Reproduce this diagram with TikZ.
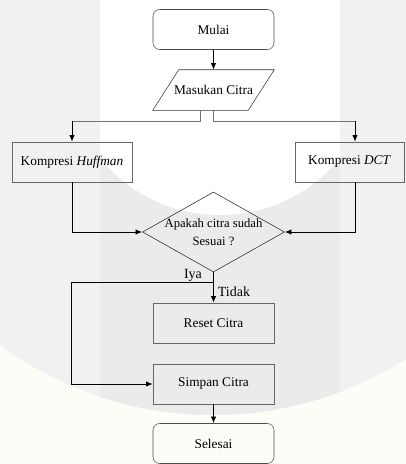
\documentclass[tikz,border=0pt]{standalone}
\usepackage{fontspec}
\setmainfont{Liberation Serif}
\usepackage{tikz}
\usetikzlibrary{positioning, arrows.meta, calc, shapes.geometric}
\definecolor{latar}{HTML}{FDFDF8}
\definecolor{abu}{HTML}{F1F1F1}
\definecolor{pita}{HTML}{EBEBEB}
\tikzset{
    startstop/.style={
        rectangle,
        rounded corners=5pt,
        draw=black!70,
        minimum width=90.75pt,
        minimum height=30pt,
        font=\fontsize{10}{12}\selectfont
    },
    process/.style={
        rectangle,
        draw=black!60,
        minimum width=90.75pt,
        minimum height=30pt,
        font=\fontsize{10}{12}\selectfont
    },
    io/.style={
        rectangle,
        minimum width=90.75pt,
        minimum height=30pt,
        font=\fontsize{10}{12}\selectfont
    },
    decision/.style={
        diamond,
        draw=black!85,
        minimum width=106.5pt,
        minimum height=60pt,
        inner sep=0pt
    },
    line/.style={
        black,
        line width=0.6pt
    },
    arrow/.style={
        line,
        -{Latex[length=5pt,width=4pt]}
    }
}

\begin{document}
\begin{tikzpicture}[x=0.75pt, y=-0.75pt]
\useasboundingbox (0,0) rectangle (406,464);

%---------------- Background ----------------

\fill[latar] (0,0) rectangle (406,464);
\begin{scope}
    \clip (0,0) rectangle (406,464);
    \fill[abu] (213,56) circle[radius=359];
    \begin{scope}
        \clip (213,56) circle[radius=359];
        \fill[pita] (100,0) rectangle (340,464);
    \end{scope}
    \begin{scope}
        \clip (100,0) rectangle (340,464);
        \fill[white] (220,60) circle[radius=155];
    \end{scope}
\end{scope}

%---------------- Nodes ----------------

\node[startstop] (mulai) at (213.5,29.5) {Mulai};
\node[io] (input) at (213.5,90) {Masukan Citra};
\draw[black!80] (input.south west) -- ($(input.north west)+(26,0)$)
    -- (input.north east) -- ($(input.south east)-(26,0)$) -- cycle;
\node[process, minimum width=90pt] (huffman) at (72,162) {Kompresi \textit{Huffman}};
\node[process, minimum width=81.75pt] (dct) at (349.5,162) {Kompresi \textit{DCT}};
\node[decision, label={[align=center, font=\fontsize{9.5}{13.5}\selectfont]center:Apakah citra sudah\\Sesuai ?}] (cek) at (213.5,232) {};
\node[process] (reset) at (213.5,323) {Reset Citra};
\node[process] (simpan) at (213.5,384) {Simpan Citra};
\node[startstop] (selesai) at (213.5,443.5) {Selesai};

\coordinate (kiri) at (72,121);
\coordinate (kanan) at (355,121);
\coordinate (belok) at (71,282);

%---------------- Connectors ----------------

\draw[arrow] (mulai) -- (input);

\draw[line, black!55] ($(input.south)-(13,0)$) |- (kiri);
\draw[line, black!55] (input.south) |- (kanan);
\draw[arrow] (kiri) -- (huffman.north);
\draw[arrow] (kanan) -- (kanan |- dct.north);

\draw[arrow] (huffman.south) |- (cek.west);
\draw[arrow] (dct.south -| kanan) |- (cek.east);

\draw[arrow] (cek.south) -- (reset.north);
\draw[arrow] (cek.south |- belok) -- (belok) |- (simpan.west);
\draw[arrow] (simpan) -- (selesai);

\node[font=\fontsize{10.5}{12}\selectfont] (iya) at (193,275) {Iya};
\node[font=\fontsize{10.5}{12}\selectfont] (tidak) at (234,292) {Tidak};

\end{tikzpicture}
\end{document}
